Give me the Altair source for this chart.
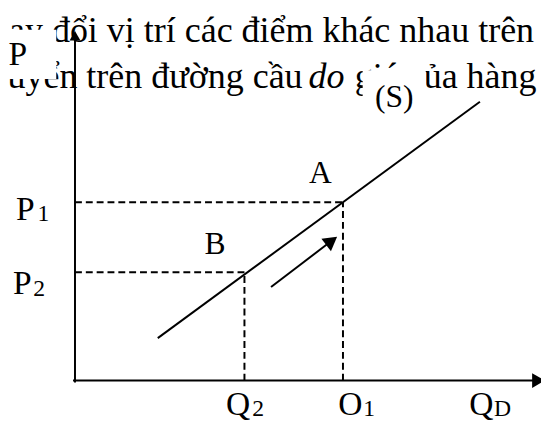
import altair as alt
import pandas as pd

# ---- data (economic units) ----
Q_VALUES = [3.44, 5.44]      # Q2, Q1
P_VALUES = [2.20, 3.62]      # P2, P1
SUPPLY_Q = [1.68, 8.22]
SUPPLY_P = [0.86, 5.66]
MOVE_Q = [3.98, 5.21]
MOVE_P = [1.90, 2.836]
AXIS_Q_END = 9.36
AXIS_P_END = 6.95

# labels: text, x, y, font size
LAB_TEXT = ["P", "P", "1", "P", "2", "A", "B", "(S)", "Q", "2", "O", "1", "Q", "D"]
LAB_X = [-1.16, -1.01, -0.64, -1.07, -0.73, 4.98, 2.84, 6.48, 3.31, 3.72, 5.59, 5.97, 8.25, 8.68]
LAB_Y = [6.40, 3.26, 3.24, 1.76, 1.72, 4.00, 2.56, 5.56, -0.70, -0.72, -0.70, -0.72, -0.70, -0.72]
LAB_SIZE = [34, 34, 24, 34, 24, 32, 32, 32, 34, 24, 34, 24, 34, 24]

LINE1 = "Sự thay đổi vị trí các điểm khác nhau trên"
LINE2A = "sự di chuyển trên đường cầu"
LINE2B = "do"
LINE2C = "giá của hàng"

XS = alt.Scale(domain=[-1.36, 9.46], nice=False, zero=False)
YS = alt.Scale(domain=[-0.82, 7.5], nice=False, zero=False)
FONT = "Liberation Serif"


def X(f="x"):
    return alt.X(f"{f}:Q", scale=XS, axis=None)


def Y(f="y"):
    return alt.Y(f"{f}:Q", scale=YS, axis=None)


# paragraph text
para_r = pd.DataFrame({"x": [9.32, 4.62], "y": [6.88, 5.94], "t": [LINE1, LINE2A]})
para_l = pd.DataFrame({"x": [5.68], "y": [5.94], "t": [LINE2C]})
para_i = pd.DataFrame({"x": [4.74], "y": [5.94], "t": [LINE2B]})

t_right = alt.Chart(para_r).mark_text(align="right", baseline="alphabetic", font=FONT,
                                      fontSize=36.5, color="black").encode(x=X(), y=Y(), text="t:N")
t_left = alt.Chart(para_l).mark_text(align="left", baseline="alphabetic", font=FONT,
                                     fontSize=36.5, color="black").encode(x=X(), y=Y(), text="t:N")
t_ital = alt.Chart(para_i).mark_text(align="left", baseline="alphabetic", font=FONT,
                                     fontSize=36.5, fontStyle="italic", color="black").encode(
    x=X(), y=Y(), text="t:N")

# white boxes hiding parts of the text
boxes = pd.DataFrame({"x": [-1.6, 5.84], "x2": [-0.38, 7.12],
                      "y": [6.12, 5.28], "y2": [7.12, 6.3]})
white = alt.Chart(boxes).mark_rect(color="white").encode(
    x=X(), x2="x2:Q", y=Y(), y2="y2:Q")

# axes
axes = pd.DataFrame({"x": [0, -0.04], "x2": [0, AXIS_Q_END],
                     "y": [-0.04, 0], "y2": [AXIS_P_END, 0]})
axis_rules = alt.Chart(axes).mark_rule(color="black", strokeWidth=2).encode(
    x=X(), x2="x2:Q", y=Y(), y2="y2:Q")

heads = pd.DataFrame({"x": [0.0, 9.41, MOVE_Q[1]], "y": [7.0, 0.0, MOVE_P[1]],
                      "shape": ["triangle-up", "triangle-right", "triangle-up"],
                      "size": [121, 225, 256], "angle": [0, 0, 53]})
head_marks = alt.Chart(heads).mark_point(filled=True, color="black", opacity=1,
                                         strokeWidth=0).encode(
    x=X(), y=Y(),
    shape=alt.Shape("shape:N", scale=None),
    size=alt.Size("size:Q", scale=None),
    angle=alt.Angle("angle:Q", scale=None))

# dashed guides
dash = pd.DataFrame({
    "x": [0, 0, Q_VALUES[0], Q_VALUES[1]],
    "x2": [Q_VALUES[0], Q_VALUES[1], Q_VALUES[0], Q_VALUES[1]],
    "y": [P_VALUES[0], P_VALUES[1], 0, 0],
    "y2": [P_VALUES[0], P_VALUES[1], P_VALUES[0], P_VALUES[1]],
})
dashed = alt.Chart(dash).mark_rule(color="black", strokeWidth=2, strokeDash=[7, 4]).encode(
    x=X(), x2="x2:Q", y=Y(), y2="y2:Q")

# supply curve and movement arrow
seg = pd.DataFrame({"x": [SUPPLY_Q[0], MOVE_Q[0]], "x2": [SUPPLY_Q[1], MOVE_Q[1]],
                    "y": [SUPPLY_P[0], MOVE_P[0]], "y2": [SUPPLY_P[1], MOVE_P[1]]})
segs = alt.Chart(seg).mark_rule(color="black", strokeWidth=2).encode(
    x=X(), x2="x2:Q", y=Y(), y2="y2:Q")

labs = pd.DataFrame({"x": LAB_X, "y": LAB_Y, "t": LAB_TEXT, "s": LAB_SIZE})
labels = alt.Chart(labs).mark_text(align="center", baseline="alphabetic", font=FONT,
                                   color="black").encode(
    x=X(), y=Y(), text="t:N", size=alt.Size("s:Q", scale=None))

chart = alt.layer(t_right, t_left, t_ital, white, dashed, segs, axis_rules, head_marks,
                  labels).properties(
    width=541, height=416, padding=0, autosize=alt.AutoSizeParams(type="none"),
    background="white"
).configure_view(stroke=None)

chart.save("out.html", embed_options={"renderer": "svg", "actions": False})
